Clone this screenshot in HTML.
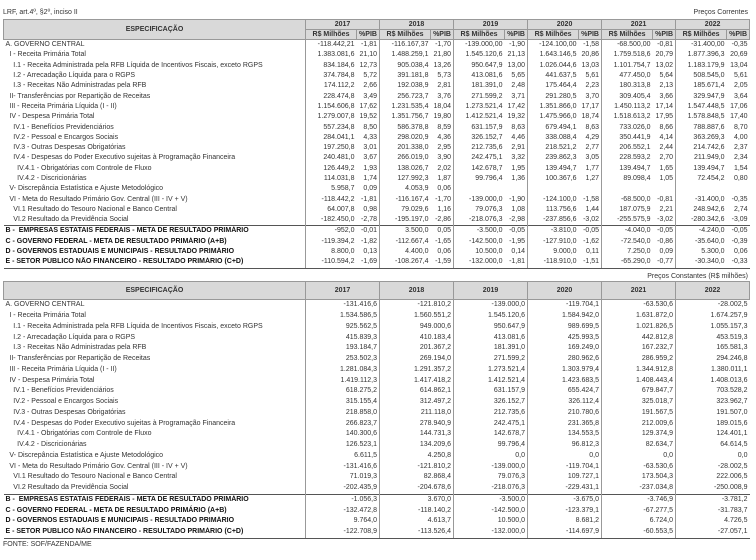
<!DOCTYPE html>
<html><head><meta charset="utf-8"><style>
body{margin:0;width:756px;height:560px;background:#fff;font-family:"Liberation Sans",sans-serif;color:#333;position:relative;overflow:hidden}
.t{position:absolute;font-size:7px;white-space:nowrap;line-height:8px}
table{position:absolute;left:3px;border-collapse:collapse;table-layout:fixed;font-size:7px;line-height:8px}
td,th{padding:0 2px;white-space:nowrap;overflow:hidden;text-align:right}
th{background:#d9d9d9;font-weight:bold;text-align:center;border:1px solid #999;padding:0}
td.l{text-align:left}
td.g,td.p{border-right:1px solid #999}
tr.b td.l{font-weight:bold;color:#111}
tr.s td{border-top:1px solid #555}
tr.last td{border-bottom:1px solid #555}
#t1 td{height:10.3px;padding-top:0;padding-bottom:0}
#t2 td{height:10.75px}
</style></head><body>
<div class="t" style="left:3px;top:9px">LRF, art.4º, §2º, inciso II</div>
<div class="t" style="right:8px;top:9px">Preços Correntes</div>
<table id="t1" style="top:19px;width:746px">
<colgroup><col style="width:302px"><col style="width:51px"><col style="width:23px"><col style="width:51px"><col style="width:23px"><col style="width:51px"><col style="width:23px"><col style="width:51px"><col style="width:23px"><col style="width:51px"><col style="width:23px"><col style="width:51px"><col style="width:23px"></colgroup>
<tr style="height:10px"><th rowspan="2">ESPECIFICAÇÃO</th><th colspan="2">2017</th><th colspan="2">2018</th><th colspan="2">2019</th><th colspan="2">2020</th><th colspan="2">2021</th><th colspan="2">2022</th></tr>
<tr style="height:10px"><th>R$ Milhões</th><th>%PIB</th><th>R$ Milhões</th><th>%PIB</th><th>R$ Milhões</th><th>%PIB</th><th>R$ Milhões</th><th>%PIB</th><th>R$ Milhões</th><th>%PIB</th><th>R$ Milhões</th><th>%PIB</th></tr>
<tr><td class="l g">A. GOVERNO CENTRAL</td><td>-118.442,21</td><td class="p">-1,81</td><td>-116.167,37</td><td class="p">-1,70</td><td>-139.000,00</td><td class="p">-1,90</td><td>-124.100,00</td><td class="p">-1,58</td><td>-68.500,00</td><td class="p">-0,81</td><td>-31.400,00</td><td>-0,35</td></tr>
<tr><td class="l g">&nbsp;&nbsp;I - Receita Primária Total</td><td>1.383.081,6</td><td class="p">21,10</td><td>1.488.259,1</td><td class="p">21,80</td><td>1.545.120,6</td><td class="p">21,13</td><td>1.643.146,5</td><td class="p">20,86</td><td>1.759.518,6</td><td class="p">20,79</td><td>1.877.396,3</td><td>20,69</td></tr>
<tr><td class="l g">&nbsp;&nbsp;&nbsp;&nbsp;I.1 - Receita Administrada pela RFB Líquida de Incentivos Fiscais, exceto RGPS</td><td>834.184,6</td><td class="p">12,73</td><td>905.038,4</td><td class="p">13,26</td><td>950.647,9</td><td class="p">13,00</td><td>1.026.044,6</td><td class="p">13,03</td><td>1.101.754,7</td><td class="p">13,02</td><td>1.183.179,9</td><td>13,04</td></tr>
<tr><td class="l g">&nbsp;&nbsp;&nbsp;&nbsp;I.2 - Arrecadação Líquida para o RGPS</td><td>374.784,8</td><td class="p">5,72</td><td>391.181,8</td><td class="p">5,73</td><td>413.081,6</td><td class="p">5,65</td><td>441.637,5</td><td class="p">5,61</td><td>477.450,0</td><td class="p">5,64</td><td>508.545,0</td><td>5,61</td></tr>
<tr><td class="l g">&nbsp;&nbsp;&nbsp;&nbsp;I.3 - Receitas Não Administradas pela RFB</td><td>174.112,2</td><td class="p">2,66</td><td>192.038,9</td><td class="p">2,81</td><td>181.391,0</td><td class="p">2,48</td><td>175.464,4</td><td class="p">2,23</td><td>180.313,8</td><td class="p">2,13</td><td>185.671,4</td><td>2,05</td></tr>
<tr><td class="l g">&nbsp;&nbsp;II- Transferências por Repartição de Receitas</td><td>228.474,8</td><td class="p">3,49</td><td>256.723,7</td><td class="p">3,76</td><td>271.599,2</td><td class="p">3,71</td><td>291.280,5</td><td class="p">3,70</td><td>309.405,4</td><td class="p">3,66</td><td>329.947,9</td><td>3,64</td></tr>
<tr><td class="l g">&nbsp;&nbsp;III - Receita Primária Líquida (I - II)</td><td>1.154.606,8</td><td class="p">17,62</td><td>1.231.535,4</td><td class="p">18,04</td><td>1.273.521,4</td><td class="p">17,42</td><td>1.351.866,0</td><td class="p">17,17</td><td>1.450.113,2</td><td class="p">17,14</td><td>1.547.448,5</td><td>17,06</td></tr>
<tr><td class="l g">&nbsp;&nbsp;IV - Despesa Primária Total</td><td>1.279.007,8</td><td class="p">19,52</td><td>1.351.756,7</td><td class="p">19,80</td><td>1.412.521,4</td><td class="p">19,32</td><td>1.475.966,0</td><td class="p">18,74</td><td>1.518.613,2</td><td class="p">17,95</td><td>1.578.848,5</td><td>17,40</td></tr>
<tr><td class="l g">&nbsp;&nbsp;&nbsp;&nbsp;IV.1 - Benefícios Previdenciários</td><td>557.234,8</td><td class="p">8,50</td><td>586.378,8</td><td class="p">8,59</td><td>631.157,9</td><td class="p">8,63</td><td>679.494,1</td><td class="p">8,63</td><td>733.026,0</td><td class="p">8,66</td><td>788.887,6</td><td>8,70</td></tr>
<tr><td class="l g">&nbsp;&nbsp;&nbsp;&nbsp;IV.2 - Pessoal e Encargos Sociais</td><td>284.041,1</td><td class="p">4,33</td><td>298.020,9</td><td class="p">4,36</td><td>326.152,7</td><td class="p">4,46</td><td>338.088,4</td><td class="p">4,29</td><td>350.441,9</td><td class="p">4,14</td><td>363.269,3</td><td>4,00</td></tr>
<tr><td class="l g">&nbsp;&nbsp;&nbsp;&nbsp;IV.3 - Outras Despesas Obrigatórias</td><td>197.250,8</td><td class="p">3,01</td><td>201.338,0</td><td class="p">2,95</td><td>212.735,6</td><td class="p">2,91</td><td>218.521,2</td><td class="p">2,77</td><td>206.552,1</td><td class="p">2,44</td><td>214.742,6</td><td>2,37</td></tr>
<tr><td class="l g">&nbsp;&nbsp;&nbsp;&nbsp;IV.4 - Despesas do Poder Executivo sujeitas à Programação Financeira</td><td>240.481,0</td><td class="p">3,67</td><td>266.019,0</td><td class="p">3,90</td><td>242.475,1</td><td class="p">3,32</td><td>239.862,3</td><td class="p">3,05</td><td>228.593,2</td><td class="p">2,70</td><td>211.949,0</td><td>2,34</td></tr>
<tr><td class="l g">&nbsp;&nbsp;&nbsp;&nbsp;&nbsp;&nbsp;IV.4.1 - Obrigatórias com Controle de Fluxo</td><td>126.449,2</td><td class="p">1,93</td><td>138.026,7</td><td class="p">2,02</td><td>142.678,7</td><td class="p">1,95</td><td>139.494,7</td><td class="p">1,77</td><td>139.494,7</td><td class="p">1,65</td><td>139.494,7</td><td>1,54</td></tr>
<tr><td class="l g">&nbsp;&nbsp;&nbsp;&nbsp;&nbsp;&nbsp;IV.4.2 - Discricionárias</td><td>114.031,8</td><td class="p">1,74</td><td>127.992,3</td><td class="p">1,87</td><td>99.796,4</td><td class="p">1,36</td><td>100.367,6</td><td class="p">1,27</td><td>89.098,4</td><td class="p">1,05</td><td>72.454,2</td><td>0,80</td></tr>
<tr><td class="l g">&nbsp;&nbsp;V- Discrepância Estatística e Ajuste Metodológico</td><td>5.958,7</td><td class="p">0,09</td><td>4.053,9</td><td class="p">0,06</td><td></td><td class="p"></td><td></td><td class="p"></td><td></td><td class="p"></td><td></td><td></td></tr>
<tr><td class="l g">&nbsp;&nbsp;VI - Meta do Resultado Primário Gov. Central (III - IV + V)</td><td>-118.442,2</td><td class="p">-1,81</td><td>-116.167,4</td><td class="p">-1,70</td><td>-139.000,0</td><td class="p">-1,90</td><td>-124.100,0</td><td class="p">-1,58</td><td>-68.500,0</td><td class="p">-0,81</td><td>-31.400,0</td><td>-0,35</td></tr>
<tr><td class="l g">&nbsp;&nbsp;&nbsp;&nbsp;VI.1 Resultado do Tesouro Nacional e Banco Central</td><td>64.007,8</td><td class="p">0,98</td><td>79.029,6</td><td class="p">1,16</td><td>79.076,3</td><td class="p">1,08</td><td>113.756,6</td><td class="p">1,44</td><td>187.075,9</td><td class="p">2,21</td><td>248.942,6</td><td>2,74</td></tr>
<tr><td class="l g">&nbsp;&nbsp;&nbsp;&nbsp;VI.2 Resultado da Previdência Social</td><td>-182.450,0</td><td class="p">-2,78</td><td>-195.197,0</td><td class="p">-2,86</td><td>-218.076,3</td><td class="p">-2,98</td><td>-237.856,6</td><td class="p">-3,02</td><td>-255.575,9</td><td class="p">-3,02</td><td>-280.342,6</td><td>-3,09</td></tr>
<tr class="b s"><td class="l g">B - &nbsp;EMPRESAS ESTATAIS FEDERAIS - META DE RESULTADO PRIMÁRIO</td><td>-952,0</td><td class="p">-0,01</td><td>3.500,0</td><td class="p">0,05</td><td>-3.500,0</td><td class="p">-0,05</td><td>-3.810,0</td><td class="p">-0,05</td><td>-4.040,0</td><td class="p">-0,05</td><td>-4.240,0</td><td>-0,05</td></tr>
<tr class="b"><td class="l g">C - GOVERNO FEDERAL - META DE RESULTADO PRIMÁRIO (A+B)</td><td>-119.394,2</td><td class="p">-1,82</td><td>-112.667,4</td><td class="p">-1,65</td><td>-142.500,0</td><td class="p">-1,95</td><td>-127.910,0</td><td class="p">-1,62</td><td>-72.540,0</td><td class="p">-0,86</td><td>-35.640,0</td><td>-0,39</td></tr>
<tr class="b"><td class="l g">D - GOVERNOS ESTADUAIS E MUNICIPAIS - RESULTADO PRIMÁRIO</td><td>8.800,0</td><td class="p">0,13</td><td>4.400,0</td><td class="p">0,06</td><td>10.500,0</td><td class="p">0,14</td><td>9.000,0</td><td class="p">0,11</td><td>7.250,0</td><td class="p">0,09</td><td>5.300,0</td><td>0,06</td></tr>
<tr class="b last"><td class="l g">E - SETOR PÚBLICO NÃO FINANCEIRO - RESULTADO PRIMÁRIO (C+D)</td><td>-110.594,2</td><td class="p">-1,69</td><td>-108.267,4</td><td class="p">-1,59</td><td>-132.000,0</td><td class="p">-1,81</td><td>-118.910,0</td><td class="p">-1,51</td><td>-65.290,0</td><td class="p">-0,77</td><td>-30.340,0</td><td>-0,33</td></tr>
</table>

<div class="t" style="right:8px;top:273px">Preços Constantes (R$ milhões)</div>
<table id="t2" style="top:281px;width:746px">
<colgroup><col style="width:302px"><col style="width:74px"><col style="width:74px"><col style="width:74px"><col style="width:74px"><col style="width:74px"><col style="width:74px"></colgroup>
<tr style="height:18px"><th>ESPECIFICAÇÃO</th><th>2017</th><th>2018</th><th>2019</th><th>2020</th><th>2021</th><th>2022</th></tr>
<tr><td class="l g">A. GOVERNO CENTRAL</td><td class="g">-131.416,6</td><td class="g">-121.810,2</td><td class="g">-139.000,0</td><td class="g">-119.704,1</td><td class="g">-63.530,6</td><td>-28.002,5</td></tr>
<tr><td class="l g">&nbsp;&nbsp;I - Receita Primária Total</td><td class="g">1.534.586,5</td><td class="g">1.560.551,2</td><td class="g">1.545.120,6</td><td class="g">1.584.942,0</td><td class="g">1.631.872,0</td><td>1.674.257,9</td></tr>
<tr><td class="l g">&nbsp;&nbsp;&nbsp;&nbsp;I.1 - Receita Administrada pela RFB Líquida de Incentivos Fiscais, exceto RGPS</td><td class="g">925.562,5</td><td class="g">949.000,6</td><td class="g">950.647,9</td><td class="g">989.699,5</td><td class="g">1.021.826,5</td><td>1.055.157,3</td></tr>
<tr><td class="l g">&nbsp;&nbsp;&nbsp;&nbsp;I.2 - Arrecadação Líquida para o RGPS</td><td class="g">415.839,3</td><td class="g">410.183,4</td><td class="g">413.081,6</td><td class="g">425.993,5</td><td class="g">442.812,8</td><td>453.519,3</td></tr>
<tr><td class="l g">&nbsp;&nbsp;&nbsp;&nbsp;I.3 - Receitas Não Administradas pela RFB</td><td class="g">193.184,7</td><td class="g">201.367,2</td><td class="g">181.391,0</td><td class="g">169.249,0</td><td class="g">167.232,7</td><td>165.581,3</td></tr>
<tr><td class="l g">&nbsp;&nbsp;II- Transferências por Repartição de Receitas</td><td class="g">253.502,3</td><td class="g">269.194,0</td><td class="g">271.599,2</td><td class="g">280.962,6</td><td class="g">286.959,2</td><td>294.246,8</td></tr>
<tr><td class="l g">&nbsp;&nbsp;III - Receita Primária Líquida (I - II)</td><td class="g">1.281.084,3</td><td class="g">1.291.357,2</td><td class="g">1.273.521,4</td><td class="g">1.303.979,4</td><td class="g">1.344.912,8</td><td>1.380.011,1</td></tr>
<tr><td class="l g">&nbsp;&nbsp;IV - Despesa Primária Total</td><td class="g">1.419.112,3</td><td class="g">1.417.418,2</td><td class="g">1.412.521,4</td><td class="g">1.423.683,5</td><td class="g">1.408.443,4</td><td>1.408.013,6</td></tr>
<tr><td class="l g">&nbsp;&nbsp;&nbsp;&nbsp;IV.1 - Benefícios Previdenciários</td><td class="g">618.275,2</td><td class="g">614.862,1</td><td class="g">631.157,9</td><td class="g">655.424,7</td><td class="g">679.847,7</td><td>703.528,2</td></tr>
<tr><td class="l g">&nbsp;&nbsp;&nbsp;&nbsp;IV.2 - Pessoal e Encargos Sociais</td><td class="g">315.155,4</td><td class="g">312.497,2</td><td class="g">326.152,7</td><td class="g">326.112,4</td><td class="g">325.018,7</td><td>323.962,7</td></tr>
<tr><td class="l g">&nbsp;&nbsp;&nbsp;&nbsp;IV.3 - Outras Despesas Obrigatórias</td><td class="g">218.858,0</td><td class="g">211.118,0</td><td class="g">212.735,6</td><td class="g">210.780,6</td><td class="g">191.567,5</td><td>191.507,0</td></tr>
<tr><td class="l g">&nbsp;&nbsp;&nbsp;&nbsp;IV.4 - Despesas do Poder Executivo sujeitas à Programação Financeira</td><td class="g">266.823,7</td><td class="g">278.940,9</td><td class="g">242.475,1</td><td class="g">231.365,8</td><td class="g">212.009,6</td><td>189.015,6</td></tr>
<tr><td class="l g">&nbsp;&nbsp;&nbsp;&nbsp;&nbsp;&nbsp;IV.4.1 - Obrigatórias com Controle de Fluxo</td><td class="g">140.300,6</td><td class="g">144.731,3</td><td class="g">142.678,7</td><td class="g">134.553,5</td><td class="g">129.374,9</td><td>124.401,1</td></tr>
<tr><td class="l g">&nbsp;&nbsp;&nbsp;&nbsp;&nbsp;&nbsp;IV.4.2 - Discricionárias</td><td class="g">126.523,1</td><td class="g">134.209,6</td><td class="g">99.796,4</td><td class="g">96.812,3</td><td class="g">82.634,7</td><td>64.614,5</td></tr>
<tr><td class="l g">&nbsp;&nbsp;V- Discrepância Estatística e Ajuste Metodológico</td><td class="g">6.611,5</td><td class="g">4.250,8</td><td class="g">0,0</td><td class="g">0,0</td><td class="g">0,0</td><td>0,0</td></tr>
<tr><td class="l g">&nbsp;&nbsp;VI - Meta do Resultado Primário Gov. Central (III - IV + V)</td><td class="g">-131.416,6</td><td class="g">-121.810,2</td><td class="g">-139.000,0</td><td class="g">-119.704,1</td><td class="g">-63.530,6</td><td>-28.002,5</td></tr>
<tr><td class="l g">&nbsp;&nbsp;&nbsp;&nbsp;VI.1 Resultado do Tesouro Nacional e Banco Central</td><td class="g">71.019,3</td><td class="g">82.868,4</td><td class="g">79.076,3</td><td class="g">109.727,1</td><td class="g">173.504,3</td><td>222.006,5</td></tr>
<tr><td class="l g">&nbsp;&nbsp;&nbsp;&nbsp;VI.2 Resultado da Previdência Social</td><td class="g">-202.435,9</td><td class="g">-204.678,6</td><td class="g">-218.076,3</td><td class="g">-229.431,1</td><td class="g">-237.034,8</td><td>-250.008,9</td></tr>
<tr class="b s"><td class="l g">B - &nbsp;EMPRESAS ESTATAIS FEDERAIS - META DE RESULTADO PRIMÁRIO</td><td class="g">-1.056,3</td><td class="g">3.670,0</td><td class="g">-3.500,0</td><td class="g">-3.675,0</td><td class="g">-3.746,9</td><td>-3.781,2</td></tr>
<tr class="b"><td class="l g">C - GOVERNO FEDERAL - META DE RESULTADO PRIMÁRIO (A+B)</td><td class="g">-132.472,8</td><td class="g">-118.140,2</td><td class="g">-142.500,0</td><td class="g">-123.379,1</td><td class="g">-67.277,5</td><td>-31.783,7</td></tr>
<tr class="b"><td class="l g">D - GOVERNOS ESTADUAIS E MUNICIPAIS - RESULTADO PRIMÁRIO</td><td class="g">9.764,0</td><td class="g">4.613,7</td><td class="g">10.500,0</td><td class="g">8.681,2</td><td class="g">6.724,0</td><td>4.726,5</td></tr>
<tr class="b last"><td class="l g">E - SETOR PÚBLICO NÃO FINANCEIRO - RESULTADO PRIMÁRIO (C+D)</td><td class="g">-122.708,9</td><td class="g">-113.526,4</td><td class="g">-132.000,0</td><td class="g">-114.697,9</td><td class="g">-60.553,5</td><td>-27.057,1</td></tr>
</table>
<div class="t" style="left:3px;top:541px">FONTE: SOF/FAZENDA/ME</div>
</body></html>
